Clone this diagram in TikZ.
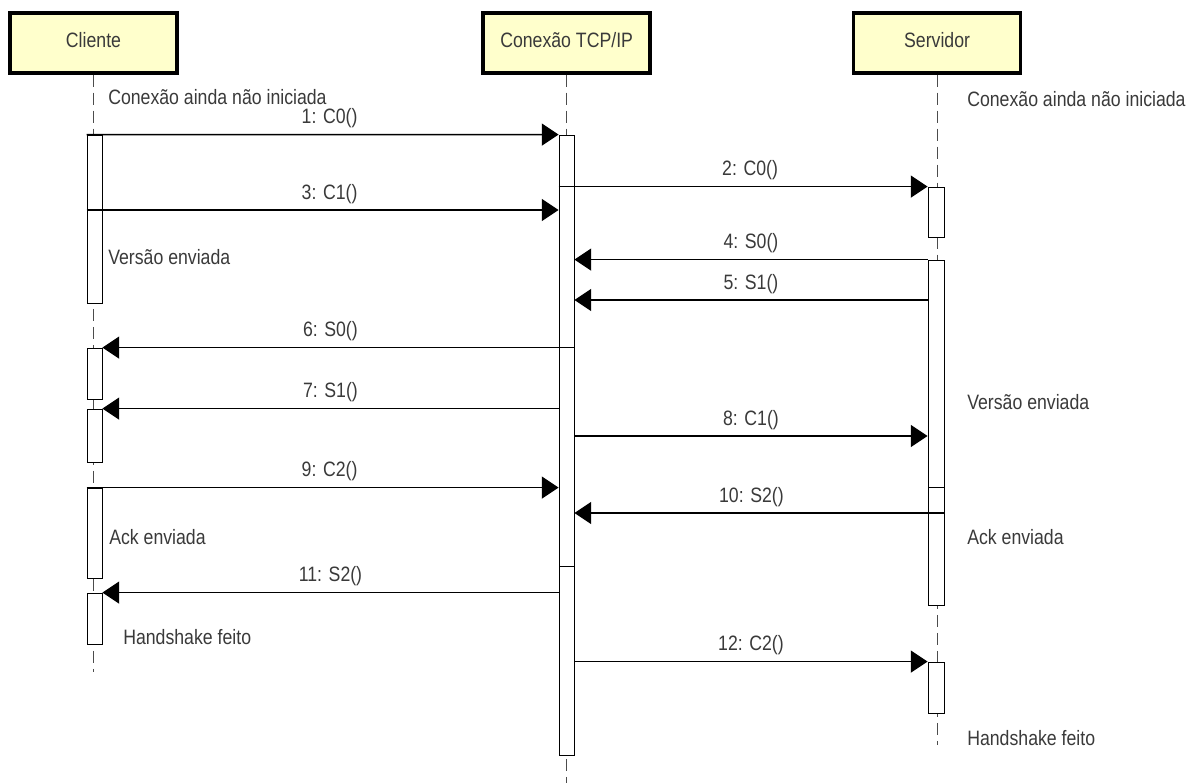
\documentclass[tikz,border=0pt]{standalone}
\usepackage{fontspec}
\setmainfont{Liberation Sans}[FakeStretch=0.85]
\usetikzlibrary{arrows.meta,fit}
\definecolor{headfill}{RGB}{255,255,204}
\definecolor{textgray}{RGB}{58,58,58}

\begin{document}
\begin{tikzpicture}[x=0.025cm, y=-0.025cm]
    \tikzstyle{head} = [rectangle, draw, line width=2.4pt, fill=headfill, minimum width=4.175cm, minimum height=1.5cm, text depth=0.4em, text=textgray, font=\fontsize{14.8}{17}\selectfont]
    \tikzstyle{lifeline} = [draw=black!70, line width=0.6pt, dash pattern=on 0.3cm off 0.15cm]
    \tikzstyle{bar} = [rectangle, draw, line width=0.6pt, fill=white, inner sep=0pt]
    \tikzstyle{msg} = [draw=black, line width=1.1pt, -{Triangle[length=0.42cm, width=0.55cm]}]
    \tikzstyle{lbl} = [text=textgray, font=\fontsize{14.8}{17}\selectfont, inner sep=1pt, above=3pt]
    \tikzstyle{note} = [text=textgray, font=\fontsize{14.8}{17}\selectfont, anchor=west, inner sep=0pt]

    \useasboundingbox[fill=white] (0,0) rectangle (1201,783);

    % Participants
    \node [head] (cli) at (93.5,43) {Cliente};
    \node [head, right of=cli, node distance=11.825cm] (tcp) {Conexão TCP/IP};
    \node [head, right of=tcp, node distance=9.26cm] (srv) {Servidor};

    % Lifelines
    \coordinate (cli-end) at (94,672);
    \coordinate (tcp-end) at (566,783);
    \coordinate (srv-end) at (936,745);
    \draw [lifeline] (cli.south) -- (cli.south |- cli-end);
    \draw [lifeline] (tcp.south) -- (tcp.south |- tcp-end);
    \draw [lifeline] (srv.south) -- (srv.south |- srv-end);

    % Activation bars
    \node [bar, fit={(87,135) (102,303)}] (c1) {};
    \node [bar, fit={(87,348) (102,399)}] (c2) {};
    \node [bar, fit={(87,409) (102,462)}] (c3) {};
    \node [bar, fit={(87,488) (102,578)}] (c4) {};
    \node [bar, fit={(87,593) (102,644)}] (c5) {};
    \node [bar, fit={(559,135) (574,566)}] (t1) {};
    \node [bar, fit={(559,566) (574,755)}] (t2) {};
    \node [bar, fit={(928,187) (944,237)}] (s1) {};
    \node [bar, fit={(928,260) (944,487)}] (s2) {};
    \node [bar, fit={(928,487) (944,605)}] (s3) {};
    \node [bar, fit={(928,662) (944,713)}] (s4) {};

    % Notes
    \node [note] (n1) at (108,97) {Conexão ainda não iniciada};
    \node [note] (n2) at (967,99) {Conexão ainda não iniciada};
    \node [note] (n3) at (108,257) {Versão enviada};
    \node [note] (n4) at (967,402) {Versão enviada};
    \node [note] (n5) at (109,537) {Ack enviada};
    \node [note] (n6) at (967,537) {Ack enviada};
    \node [note] (n7) at (123,637) {Handshake feito};
    \node [note] (n8) at (967,738) {Handshake feito};

    % Messages
    \draw [msg] (c1.north west) -- node [lbl, xshift=0.175cm] {1: C0()} (t1.north west);
    \draw [msg] (t1.west |- s1.north) -- node [lbl, xshift=0.175cm] {2: C0()} (s1.north west);
    \draw [msg] (c1.west |- 0,210) -- node [lbl, xshift=0.175cm] {3: C1()} (t1.west |- 0,210);
    \draw [msg] (s2.north west) -- node [lbl] {4: S0()} (t1.east |- s2.north);
    \draw [msg] (s2.west |- 0,300) -- node [lbl] {5: S1()} (t1.east |- 0,300);
    \draw [msg] (t1.east |- c2.north) -- node [lbl, xshift=-0.2cm] {6: S0()} (c2.north east);
    \draw [msg] (t1.west |- c3.north) -- node [lbl] {7: S1()} (c3.north east);
    \draw [msg] (t1.east |- 0,436) -- node [lbl] {8: C1()} (s2.west |- 0,436);
    \draw [msg] (c4.north west) -- node [lbl, xshift=0.175cm] {9: C2()} (t1.west |- c4.north);
    \draw [msg] (s3.east |- 0,513) -- node [lbl, xshift=-0.2cm] {10: S2()} (t1.east |- 0,513);
    \draw [msg] (t2.west |- c5.north) -- node [lbl] {11: S2()} (c5.north east);
    \draw [msg] (t2.east |- s4.north) -- node [lbl] {12: C2()} (s4.north west);
\end{tikzpicture}
\end{document}
